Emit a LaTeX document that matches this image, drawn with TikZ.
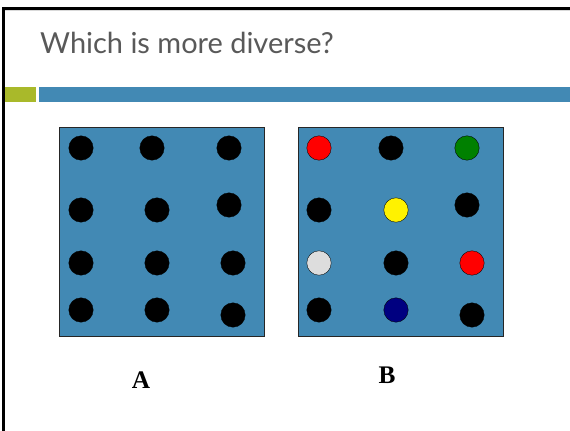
\documentclass[tikz,border=0pt]{standalone}
\usepackage{fontspec}
\setmainfont{Liberation Serif}
\newfontfamily\titlefont{Lato}
\usepackage{tikz}

\definecolor{slideblue}{HTML}{4289B4}
\definecolor{slidegreen}{HTML}{A9B92A}
\definecolor{titlegray}{HTML}{595959}
\definecolor{dotgray}{HTML}{DDDDDD}
\definecolor{dotnavy}{HTML}{000080}
\definecolor{dotgreen}{HTML}{008000}

\tikzset{
	panel/.style = {draw = black!85, line width = 0.8pt, fill = slideblue, inner sep = 0pt},
	dot/.style = {circle, draw = black, line width = 0.5pt, fill = #1, minimum size = 12.2mm, inner sep = 0pt},
	dot/.default = black,
	caption/.style = {font = \fontsize{36}{40}\selectfont\bfseries, inner sep = 0pt}
}

\begin{document}
\begin{tikzpicture}[x=0.5mm, y=-0.5mm]
		\useasboundingbox (0, 0) rectangle (570, 431);
		% slide frame
		\draw [black!15, line width = 1pt] (5, 10.5) -- (570, 10.5);
		\draw [line width = 4.3pt] (3.2, 431) -- (3.2, 8.3) -- (570, 8.3);
		\node [anchor = base west, inner sep = 0pt, text = titlegray, font = \titlefont\fontsize{41.2}{45}\selectfont] (title) at (40, 53) {Which is more diverse?};
		\fill [slidegreen] (5, 87) rectangle (36, 102);
		\fill [slideblue] (39, 87) rectangle (570, 102);

		% panel A
		\node [panel, minimum width = 102.5mm, minimum height = 104.5mm] (boxA) at (161.5, 231.5) {};
		\node [dot] (a11) at (81, 148) {};
		\node [dot] (a12) at (152, 148) {};
		\node [dot] (a13) at (229, 148) {};
		\node [dot] (a21) at (81, 210) {};
		\node [dot] (a22) at (157, 210) {};
		\node [dot] (a23) at (229, 205) {};
		\node [dot] (a31) at (81, 263) {};
		\node [dot] (a32) at (157, 263) {};
		\node [dot] (a33) at (233, 263) {};
		\node [dot] (a41) at (81, 310) {};
		\node [dot] (a42) at (157, 310) {};
		\node [dot] (a43) at (233, 315) {};
		\node [caption, anchor = base] (labelA) at (141, 388) {A};

		% panel B
		\node [panel, minimum width = 102.5mm, minimum height = 104.5mm] (boxB) at (400.5, 231.5) {};
		\node [dot = red] (b11) at (319, 148) {};
		\node [dot] (b12) at (391, 148) {};
		\node [dot = dotgreen] (b13) at (467, 148) {};
		\node [dot] (b21) at (319, 210) {};
		\node [dot = yellow] (b22) at (396, 210) {};
		\node [dot] (b23) at (467, 205) {};
		\node [dot = dotgray] (b31) at (319, 263) {};
		\node [dot] (b32) at (396, 263) {};
		\node [dot = red] (b33) at (472, 263) {};
		\node [dot] (b41) at (319, 310) {};
		\node [dot = dotnavy] (b42) at (396, 310) {};
		\node [dot] (b43) at (472, 315) {};
		\node [caption, anchor = base] (labelB) at (387, 383) {B};
	\end{tikzpicture}
\end{document}
